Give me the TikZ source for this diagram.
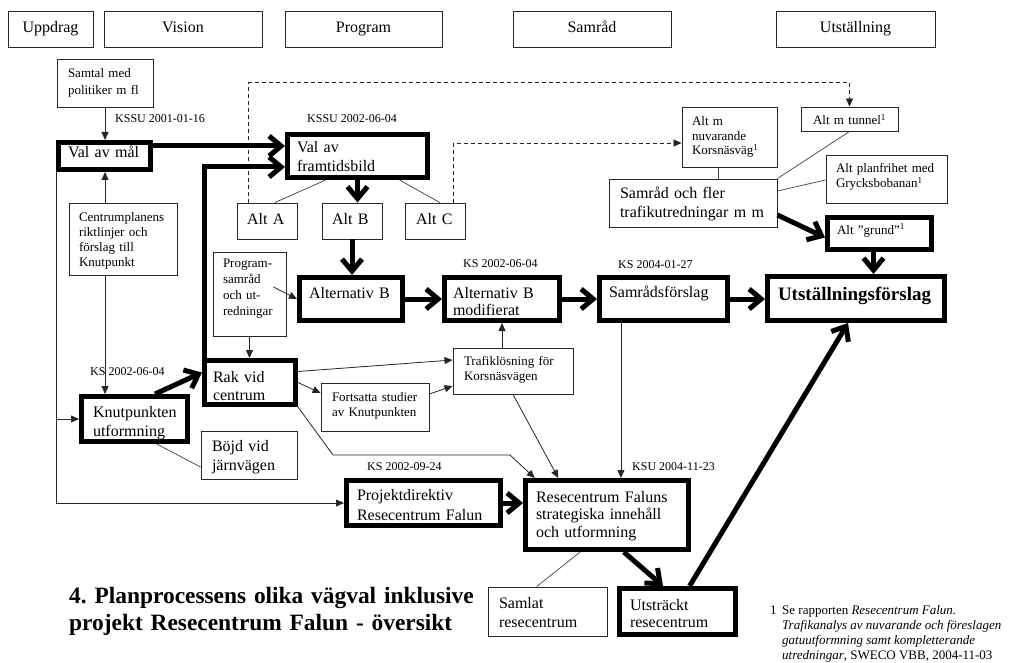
\documentclass[tikz,border=0pt]{standalone}
\usepackage{fontspec}
\setmainfont{Liberation Serif}
\usetikzlibrary{arrows.meta,calc}
\newcommand\myfs[2]{\fontsize{#1}{#2}\selectfont}
\frenchspacing
\begin{document}
\begin{tikzpicture}[x=1pt,y=-1pt,
  thinbox/.style={draw=black!85, line width=0.9pt, inner ysep=0pt, align=left, text height=0pt},
  thickbox/.style={draw=black, line width=5pt, inner ysep=0pt, align=left, text height=0pt},
  hdr/.style={draw=black!85, line width=0.9pt, minimum height=36, text height=11pt, text depth=3pt, font=\myfs{16}{18}},
  lbl/.style={anchor=base west, inner sep=0pt, font=\myfs{12}{14}},
  thinarr/.style={draw=black!85, line width=0.8pt, -{Triangle[length=8pt,width=7pt]}},
  thinln/.style={draw=black!75, line width=0.7pt},
  dasharr/.style={draw=black!85, line width=0.8pt, dash pattern=on 4pt off 3pt, -{Triangle[length=8pt,width=7pt]}},
  thickarr/.style={draw=black, line width=5pt, -{Straight Barb[length=12pt,width=20pt]}}
]
\fill[white] (0,0) rectangle (1014,663);
\useasboundingbox (0,0) rectangle (1014,663);

% header row
\node[hdr, minimum width=85] (hU) at (50.5,29) {Uppdrag};
\node[hdr, minimum width=158] (hV) at (183,29) {Vision};
\node[hdr, minimum width=157] (hP) at (363.5,29) {Program};
\node[hdr, minimum width=158] (hS) at (592,29) {Samråd};
\node[hdr, minimum width=159] (hUt) at (855.5,29) {Utställning};

% thin boxes
\node[thinbox, minimum width=96, minimum height=48, inner xsep=11pt, text width=74pt, text depth=10pt, font=\myfs{13}{17}] (samtal) at (105,83) {Samtal~med\\politiker~m~fl};
\node[thinbox, minimum width=108, minimum height=72, inner xsep=10pt, text width=88pt, text depth=34pt, font=\myfs{13}{15}] (centrum) at (123,239) {Centrumplanens\\riktlinjer~och\\förslag~till\\Knutpunkt};
\node[thinbox, minimum width=60, minimum height=36, inner xsep=10pt, text width=40pt, text height=6pt, text depth=0pt, font=\myfs{16}{19}] (altA) at (267,221) {Alt~A};
\node[thinbox, minimum width=60, minimum height=36, inner xsep=10pt, text width=40pt, text height=6pt, text depth=0pt, font=\myfs{16}{19}] (altB) at (352,221) {Alt~B};
\node[thinbox, minimum width=60, minimum height=36, inner xsep=11pt, text width=38pt, text height=6pt, text depth=0pt, font=\myfs{16}{19}] (altC) at (435,221) {Alt~C};
\node[thinbox, minimum width=73, minimum height=84, inner xsep=10pt, text width=53pt, text depth=54pt, font=\myfs{13}{16}] (prog) at (249.5,294) {Program-\\samråd\\och~ut-\\redningar};
\node[thinbox, minimum width=108, minimum height=48, inner xsep=11pt, text width=86pt, text depth=12pt, font=\myfs{13}{15}] (fort) at (375,407) {Fortsatta~studier\\av~Knutpunkten};
\node[thinbox, minimum width=120, minimum height=46, inner xsep=11pt, text width=98pt, text depth=12pt, font=\myfs{13}{15}] (trafik) at (513,371) {Trafiklösning~för\\Korsnäsvägen};
\node[thinbox, minimum width=96, minimum height=48, inner xsep=11pt, text width=74pt, text depth=8pt, font=\myfs{16}{19}] (bojd) at (249,455) {Böjd~vid\\järnvägen};
\node[thinbox, minimum width=119, minimum height=49, inner xsep=11pt, text width=97pt, text depth=7pt, font=\myfs{16}{19}] (samlat) at (547.5,611.5) {Samlat\\resecentrum};
\node[thinbox, minimum width=168, minimum height=48, inner xsep=11pt, text width=146pt, text depth=8pt, font=\myfs{16}{19}] (samrad2) at (693,203) {Samråd~och~fler\\trafikutredningar~m~m};
\node[thinbox, minimum width=95, minimum height=60, inner xsep=10pt, text width=75pt, text depth=22pt, font=\myfs{13}{14.5}] (nuvar) at (729.5,137) {Alt~m\\nuvarande\\Korsnäsväg\textsuperscript{1}};
\node[thinbox, minimum width=97, minimum height=24, inner xsep=12pt, text width=73pt, text height=12pt, text depth=0pt, font=\myfs{13}{15}] (tunnel) at (849.5,119) {Alt~m~tunnel\textsuperscript{1}};
\node[thinbox, minimum width=121, minimum height=48, inner xsep=10pt, text width=101pt, text depth=12pt, font=\myfs{13}{15}] (planf) at (886.5,179) {Alt~planfrihet~med\\Grycksbobanan\textsuperscript{1}};

% thick boxes
\node[thickbox, minimum width=92, minimum height=27, inner xsep=9.5pt, text width=73pt, text height=4pt, text depth=0pt, font=\myfs{16}{19}] (valmal) at (104.5,156) {Val~av~mål};
\node[thickbox, minimum width=140, minimum height=43, inner xsep=9.5pt, text width=121pt, text depth=6pt, font=\myfs{16}{19}] (framtid) at (357.5,156) {Val~av\\framtidsbild};
\node[thickbox, minimum width=103, minimum height=43, inner xsep=9.5pt, text width=84pt, text depth=2pt, font=\myfs{16}{19}] (altBmain) at (351,299) {Alternativ~B};
\node[thickbox, minimum width=115, minimum height=43, inner xsep=8.5pt, text width=98pt, text depth=2pt, font=\myfs{16}{17.5}] (altBmod) at (502,299) {Alternativ~B\\modifierat};
\node[thickbox, minimum width=128, minimum height=43, inner xsep=9.5pt, text width=109pt, text depth=4pt, font=\myfs{16}{19}] (samfor) at (663.5,299) {Samrådsförslag};
\node[thickbox, minimum width=177, minimum height=44, inner xsep=10.5pt, text width=156pt, text height=3pt, text depth=0pt, font=\bfseries\myfs{19}{22}] (utst) at (856,298.5) {Utställningsförslag};
\node[thickbox, minimum width=104, minimum height=32, inner xsep=9.5pt, text width=85pt, text height=1pt, text depth=0pt, font=\myfs{13}{15}] (grund) at (879.5,233.5) {Alt~”grund”\textsuperscript{1}};
\node[thickbox, minimum width=106, minimum height=45, inner xsep=11.5pt, text width=83pt, text depth=4pt, font=\myfs{16}{19}] (knut) at (134.5,419) {Knutpunkten\\utformning};
\node[thickbox, minimum width=91, minimum height=44, inner xsep=8.5pt, text width=74pt, text depth=1pt, font=\myfs{16}{18}] (rak) at (250,382.5) {Rak~vid\\centrum};
\node[thickbox, minimum width=154, minimum height=45, inner xsep=10.5pt, text width=133pt, text depth=6pt, font=\myfs{16}{20}] (projd) at (423.5,503) {Projektdirektiv\\Resecentrum~Falun};
\node[thickbox, minimum width=163, minimum height=69, inner xsep=10.5pt, text width=142pt, text depth=26pt, font=\myfs{16}{17.5}] (rese) at (607,515) {Resecentrum~Faluns\\strategiska~innehåll\\och~utformning};
\node[thickbox, minimum width=116, minimum height=46, inner xsep=10.5pt, text width=95pt, text depth=3pt, font=\myfs{16}{17}] (utstr) at (677.5,611.5) {Utsträckt\\resecentrum};

% date labels
\node[lbl] (d1) at (115,123) {KSSU 2001-01-16};
\node[lbl] (d2) at (307,123) {KSSU 2002-06-04};
\node[lbl] (d3) at (463,267) {KS 2002-06-04};
\node[lbl] (d4) at (618,268) {KS 2004-01-27};
\node[lbl] (d5) at (90,375) {KS 2002-06-04};
\node[lbl] (d6) at (367,470) {KS 2002-09-24};
\node[lbl] (d7) at (632,470) {KSU 2004-11-23};

% title
\node[anchor=base west, inner sep=0pt, text width=460pt, align=left, font=\bfseries\myfs{23.4}{27}] (title) at (69,603) {4. Planprocessens olika vägval inklusive\\projekt Resecentrum Falun - översikt};

% footnote
\node[anchor=base west, inner sep=0pt, font=\myfs{13}{15}] (foot) at (770,614) {\begin{tabular}[t]{@{}l@{\hspace{5.5pt}}l@{}}1&Se rapporten \textit{Resecentrum Falun.}\\&\textit{Trafikanalys av nuvarande och föreslagen}\\&\textit{gatuutformning samt kompletterande}\\&\textit{utredningar}, SWECO VBB, 2004-11-03\end{tabular}};

% thin arrows
\draw[thinarr] (samtal.south) -- (samtal.south |- valmal.north);
\draw[thinarr] (centrum.north -| samtal.south) -- (valmal.south -| samtal.south);
\draw[thinarr] (centrum.south -| samtal.south) -- (knut.north -| samtal.south);
\draw[thinarr] (valmal.south west) |- (projd.west);
\draw[thinarr] (valmal.south west |- knut.west) -- (knut.west);
\draw[thinarr] (prog.south) -- (prog.south |- rak.north);
\draw[thinarr] ($(prog.east)+(-13,-7)$) -- (altBmain.west);
\draw[thinarr] ($(rak.east)+(0,-11)$) -- ($(trafik.west)+(0,-11)$);
\draw[thinarr] (rak.east) -- ($(fort.west)+(0,-14)$);
\draw[thinarr] ($(fort.east)+(0,-13)$) -- ($(trafik.west)+(0,15)$);
\draw[thinarr] (altBmod.south |- trafik.north) -- (altBmod.south);
\draw[thinarr] (trafik.south) -- ($(rese.north west)!0.21!(rese.north east)$);
\draw[thinarr] (rak.south east) -- ++(35,48) -- ++(177,0) -- ($(rese.north west)!0.07!(rese.north east)$);
\draw[thinarr] ($(samfor.south west)!0.18!(samfor.south east)$) coordinate (s1) -- (s1 |- rese.north);

% dashed arrows
\draw[dasharr] ($(altA.north west)!0.2!(altA.north east)$) -- ++(0,-120) -| (tunnel.north);
\draw[dasharr] ($(altC.north west)!0.8!(altC.north east)$) |- ($(nuvar.west)+(0,6)$);

% thin lines
\draw[thinln] ($(framtid.south west)!0.28!(framtid.south east)$) -- ($(altA.north west)!0.63!(altA.north east)$);
\draw[thinln] ($(framtid.south west)!0.79!(framtid.south east)$) -- ($(altC.north west)!0.58!(altC.north east)$);
\draw[thinln] ($(nuvar.south west)!0.38!(nuvar.south east)$) coordinate (n1) -- (n1 |- samrad2.north);
\draw[thinln] (tunnel.south) -- (samrad2.north east);
\draw[thinln] ($(samrad2.east)+(0,-12)$) -- ($(planf.west)+(0,1)$);
\draw[thinln] ($(knut.south west)!0.70!(knut.south east)$) -- ($(bojd.west)+(0,12)$);
\draw[thinln] ($(rese.south west)!0.34!(rese.south east)$) -- ($(samlat.north west)!0.41!(samlat.north east)$);

% thick arrows
\draw[thickarr] ($(valmal.east)+(0,-10)$) coordinate (v1) -- (v1 -| framtid.west);
\draw[thickarr] ([xshift=2.5pt]rak.north west) |- ($(framtid.west)+(0,11)$);
\draw[thickarr] ($(knut.north west)!0.685!(knut.north east)$) -- ($(rak.west)+(0,-10)$);
\draw[thickarr] (framtid.south) -- (framtid.south |- altB.north);
\draw[thickarr] (altB.south) -- (altB.south |- altBmain.north);
\draw[thickarr] (altBmain.east) -- (altBmod.west);
\draw[thickarr] (altBmod.east) -- (samfor.west);
\draw[thickarr] (samfor.east) -- (samfor.east -| utst.west);
\draw[thickarr] ($(samrad2.east)+(0,12)$) -- ($(grund.west)+(0,4)$);
\draw[thickarr] ($(grund.south)+(-6,0)$) coordinate (g1) -- (g1 |- utst.north);
\draw[thickarr] (projd.east) -- (projd.east -| rese.west);
\draw[thickarr] ($(rese.south west)!0.6!(rese.south east)$) -- ($(utstr.north west)!0.38!(utstr.north east)$);
\draw[thickarr] ($(utstr.north west)!0.6!(utstr.north east)$) -- ($(utst.south west)!0.456!(utst.south east)$);
\end{tikzpicture}
\end{document}
